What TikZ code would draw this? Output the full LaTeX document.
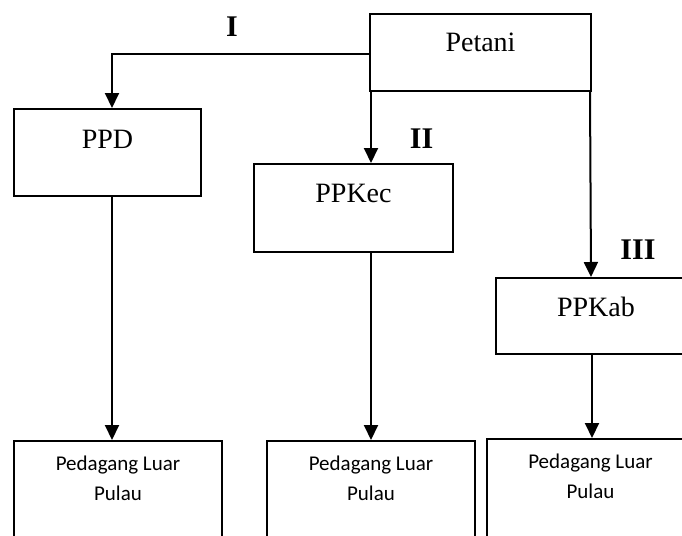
\documentclass[tikz,border=0pt]{standalone}
\usepackage{fontspec}
\setmainfont{Liberation Serif}
\newfontfamily\carlito{Carlito}
\usetikzlibrary{arrows.meta}
\begin{document}
\begin{tikzpicture}[x=1pt,y=-1pt,
  box/.style={draw, line width=2pt, inner sep=0pt, anchor=north west, font=\fontsize{28}{32}\selectfont},
  plbox/.style={draw, line width=2pt, inner sep=0pt, anchor=north west, minimum height=140pt},
  pltext/.style={inner sep=0pt, anchor=north, align=center, font=\carlito\fontsize{21}{30}\selectfont},
  lbl/.style={inner sep=0pt, anchor=base, font=\bfseries\fontsize{30}{34}\selectfont},
  arr/.style={line width=2pt, -{Triangle[length=15pt,width=14pt]}}]
\clip (0,0) rectangle (682,535);
\node[box, minimum width=221pt, text height=38pt, text depth=39pt] (petani) at (369,13) {Petani};
\node[box, minimum width=187pt, text height=39pt, text depth=48pt] (ppd) at (13,108) {PPD};
\node[box, minimum width=199pt, text height=38pt, text depth=50pt] (ppkec) at (253,163) {PPKec};
\node[box, minimum width=200pt, text height=38pt, text depth=38pt] (ppkab) at (495,277) {PPKab};
\node[plbox, minimum width=208pt] (pl1) at (13,440) {};
\node[plbox, minimum width=208pt] (pl2) at (266,440) {};
\node[plbox, minimum width=207pt] (pl3) at (486,438) {};
\node[pltext] (pl1t) at ([yshift=-16pt]pl1.north) {Pedagang Luar\\Pulau};
\node[pltext] (pl2t) at ([yshift=-16pt]pl2.north) {Pedagang Luar\\Pulau};
\node[pltext] (pl3t) at ([yshift=-16pt]pl3.north) {Pedagang Luar\\Pulau};
\node[lbl] (l1) at (232,37) {I};
\node[lbl] (l2) at (421.5,148) {II};
\node[lbl] (l3) at (638,259) {III};
\coordinate (a1) at ([yshift=-1.5pt]petani.west);
\coordinate (a2) at ([xshift=4.5pt]ppd.north);
\coordinate (b1) at ([xshift=2pt]petani.south west);
\coordinate (c1) at ([xshift=-2pt]petani.south east);
\coordinate (c2) at ([xshift=-5pt]ppkab.north);
\coordinate (d1) at ([xshift=4.5pt]ppd.south);
\coordinate (f1) at ([xshift=1.5pt]pl3.north);
\draw[arr] (a1) -| (a2);
\draw[arr] (b1) -- (b1 |- ppkec.north);
\draw[arr] (c1) -- (c2);
\draw[arr] (d1) -- (d1 |- pl1.north);
\draw[arr] (pl2.north |- ppkec.south) -- (pl2.north);
\draw[arr] (f1 |- ppkab.south) -- (f1);
\end{tikzpicture}
\end{document}
